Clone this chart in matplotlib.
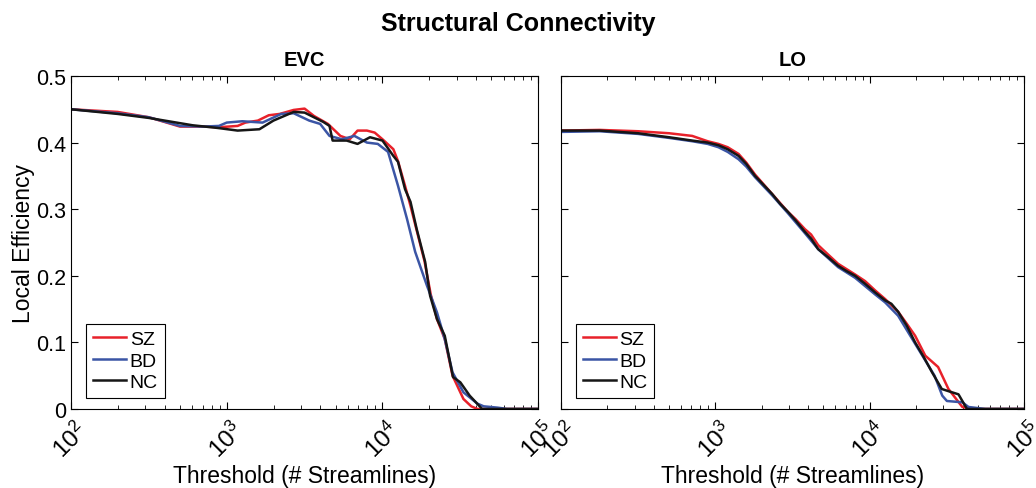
import numpy as np
import matplotlib.pyplot as plt
from matplotlib.ticker import LogLocator, NullFormatter

plt.rcParams['font.family'] = ['Liberation Sans', 'DejaVu Sans']
plt.rcParams['mathtext.fontset'] = 'custom'
plt.rcParams['mathtext.rm'] = 'Liberation Sans'

# ---- data (log10 threshold, local efficiency) ----
evc_sz_logx = [2.0, 2.3, 2.5, 2.7, 2.85, 2.95, 3.07, 3.12, 3.2, 3.27, 3.34, 3.43, 3.5, 3.56,
               3.65, 3.73, 3.79, 3.84, 3.9, 3.95, 4.0, 4.07, 4.1, 4.145, 4.18, 4.22, 4.27,
               4.31, 4.35, 4.4, 4.45, 4.52, 4.57, 4.61, 4.8, 5.0]
evc_sz_y = [0.450, 0.446, 0.438, 0.424, 0.424, 0.423, 0.425, 0.430, 0.433, 0.441, 0.443, 0.449,
            0.451, 0.440, 0.428, 0.410, 0.405, 0.418, 0.418, 0.415, 0.405, 0.390, 0.372,
            0.335, 0.305, 0.268, 0.222, 0.172, 0.135, 0.105, 0.050, 0.015, 0.004, 0.0, 0.0, 0.0]

evc_bd_logx = [2.0, 2.3, 2.5, 2.7, 2.85, 2.95, 3.0, 3.1, 3.23, 3.35, 3.43, 3.53, 3.6, 3.66,
               3.74, 3.82, 3.9, 3.97, 4.036, 4.1, 4.158, 4.21, 4.286, 4.35, 4.4, 4.45,
               4.52, 4.61, 4.65, 4.74, 4.8, 5.0]
evc_bd_y = [0.450, 0.444, 0.438, 0.425, 0.424, 0.425, 0.430, 0.432, 0.430, 0.443, 0.444, 0.433,
            0.428, 0.410, 0.405, 0.410, 0.400, 0.398, 0.386, 0.335, 0.285, 0.236, 0.185,
            0.145, 0.105, 0.055, 0.025, 0.008, 0.004, 0.002, 0.0, 0.0]

evc_nc_logx = [2.0, 2.3, 2.5, 2.78, 2.94, 3.07, 3.21, 3.3, 3.43, 3.5, 3.62, 3.66, 3.68, 3.77,
               3.84, 3.92, 4.0, 4.07, 4.1, 4.145, 4.18, 4.22, 4.274, 4.306, 4.35, 4.4, 4.453,
               4.5, 4.56, 4.64, 4.8, 5.0]
evc_nc_y = [0.450, 0.443, 0.437, 0.426, 0.422, 0.418, 0.420, 0.433, 0.446, 0.445, 0.431, 0.425,
            0.403, 0.403, 0.398, 0.408, 0.403, 0.380, 0.371, 0.330, 0.311, 0.270, 0.221,
            0.170, 0.135, 0.110, 0.048, 0.040, 0.020, 0.0, 0.0, 0.0]

lo_sz_logx = [2.0, 2.25, 2.5, 2.7, 2.85, 2.95, 3.02, 3.08, 3.15, 3.2, 3.257, 3.31, 3.367,
              3.47, 3.52, 3.58, 3.62, 3.666, 3.73, 3.795, 3.905, 3.97, 4.035, 4.1, 4.184,
              4.24, 4.294, 4.36, 4.443, 4.51, 4.6, 4.66, 5.0]
lo_sz_y = [0.418, 0.419, 0.417, 0.414, 0.410, 0.402, 0.398, 0.393, 0.383, 0.370, 0.352, 0.338,
           0.323, 0.296, 0.285, 0.270, 0.262, 0.246, 0.232, 0.218, 0.202, 0.192, 0.178,
           0.165, 0.146, 0.128, 0.110, 0.080, 0.063, 0.030, 0.003, 0.0, 0.0]

lo_bd_logx = [2.0, 2.25, 2.5, 2.7, 2.85, 2.95, 3.02, 3.08, 3.15, 3.2, 3.257, 3.367, 3.47,
              3.58, 3.666, 3.795, 3.905, 4.035, 4.1, 4.184, 4.294, 4.42, 4.47, 4.5, 4.6,
              4.64, 4.75, 5.0]
lo_bd_y = [0.416, 0.417, 0.413, 0.407, 0.402, 0.398, 0.393, 0.386, 0.375, 0.364, 0.348, 0.321,
           0.294, 0.264, 0.240, 0.213, 0.197, 0.172, 0.160, 0.140, 0.098, 0.050, 0.020,
           0.012, 0.010, 0.003, 0.0, 0.0]

lo_nc_logx = [2.0, 2.25, 2.5, 2.7, 2.85, 2.95, 3.02, 3.08, 3.15, 3.2, 3.257, 3.31, 3.367,
              3.42, 3.47, 3.52, 3.58, 3.62, 3.666, 3.73, 3.795, 3.85, 3.905, 3.97, 4.035,
              4.1, 4.14, 4.184, 4.24, 4.294, 4.35, 4.404, 4.467, 4.52, 4.575, 4.63, 5.0]
lo_nc_y = [0.418, 0.418, 0.414, 0.408, 0.403, 0.400, 0.396, 0.390, 0.380, 0.368, 0.350, 0.337,
           0.323, 0.308, 0.296, 0.283, 0.266, 0.256, 0.240, 0.228, 0.215, 0.207, 0.200,
           0.188, 0.175, 0.163, 0.158, 0.146, 0.125, 0.100, 0.078, 0.055, 0.030, 0.026,
           0.022, 0.0, 0.0]

panels = {
    'EVC': [(evc_sz_logx, evc_sz_y), (evc_bd_logx, evc_bd_y), (evc_nc_logx, evc_nc_y)],
    'LO': [(lo_sz_logx, lo_sz_y), (lo_bd_logx, lo_bd_y), (lo_nc_logx, lo_nc_y)],
}
groups = ['SZ', 'BD', 'NC']
colors = ['#e8212a', '#3b55a5', '#161616']

fig = plt.figure(figsize=(10.36, 4.89), dpi=100)
ax1 = fig.add_axes([0.0685, 0.1616, 0.451, 0.681])
ax2 = fig.add_axes([0.5415, 0.1616, 0.447, 0.681])

for ax, (name, series) in zip([ax1, ax2], panels.items()):
    for (lx, y), g, c in zip(series, groups, colors):
        ax.plot(10 ** np.array(lx), y, color=c, lw=1.8, label=g)
    ax.set_xscale('log')
    ax.set_xlim(1e2, 1e5)
    ax.set_ylim(0, 0.5)
    ax.set_xticks([1e2, 1e3, 1e4, 1e5])
    ax.xaxis.set_minor_locator(LogLocator(base=10, subs=np.arange(2, 10)))
    ax.xaxis.set_minor_formatter(NullFormatter())
    ax.set_yticks([0, 0.1, 0.2, 0.3, 0.4, 0.5])
    ax.tick_params(which='both', direction='in', top=True, right=True, labelsize=15.5)
    ax.tick_params(which='major', length=5, width=0.8)
    ax.tick_params(which='minor', length=3, width=0.6)
    ax.tick_params(axis='x', labelrotation=45, labelsize=17.5, pad=6)
    ax.set_xlabel('Threshold (# Streamlines)', fontsize=16.5, labelpad=1)
    ax.set_title(name, fontsize=14.5, fontweight='bold', pad=8)
    leg = ax.legend(loc='lower left', fontsize=14, handlelength=1.7, handletextpad=0.2,
                    labelspacing=0.2, borderpad=0.35, borderaxespad=0, fancybox=False,
                    framealpha=1, edgecolor='black', bbox_to_anchor=(0.032, 0.033))
    leg.get_frame().set_linewidth(0.8)
    for sp in ax.spines.values():
        sp.set_linewidth(0.8)

ax1.set_yticklabels(['0', '0.1', '0.2', '0.3', '0.4', '0.5'])
ax1.set_ylabel('Local Efficiency', fontsize=16.5, labelpad=0.5)
ax2.set_yticklabels([])

fig.suptitle('Structural Connectivity', fontsize=18, fontweight='bold', y=0.975)

fig.savefig('out.png', dpi=100)
